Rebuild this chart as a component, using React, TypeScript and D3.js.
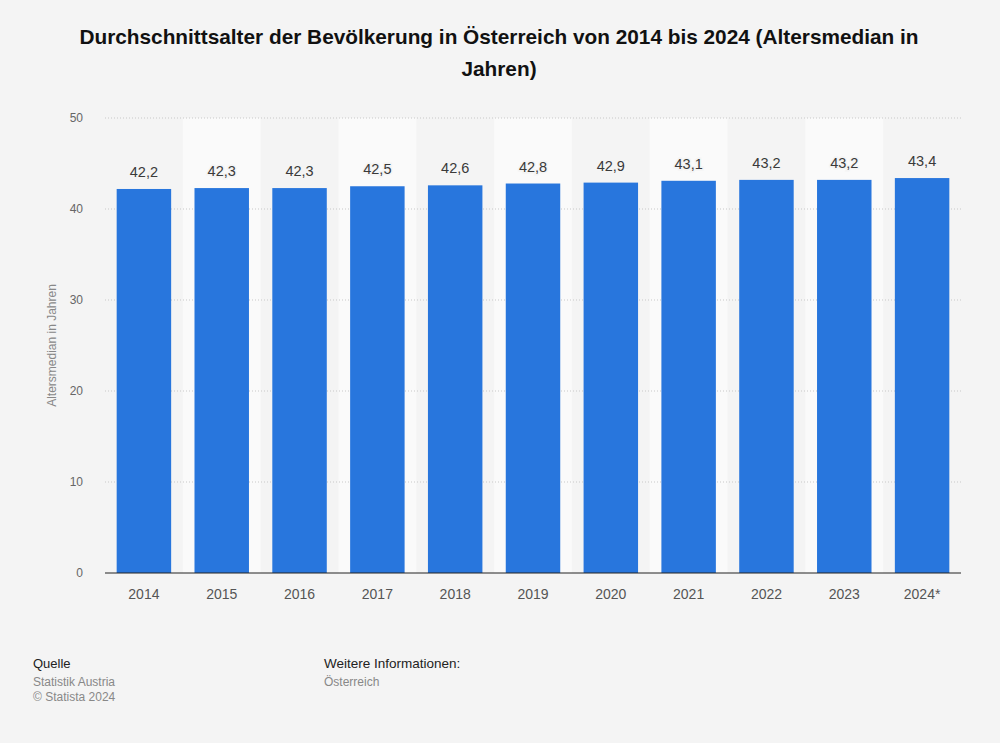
import React from "react";
import * as d3 from "d3";

const categories = ["2014", "2015", "2016", "2017", "2018", "2019", "2020", "2021", "2022", "2023", "2024*"];
const values = [42.2, 42.3, 42.3, 42.5, 42.6, 42.8, 42.9, 43.1, 43.2, 43.2, 43.4];
const yTicks = [0, 10, 20, 30, 40, 50];

const W = 1000, H = 743;
const left = 105, right = 961, top = 118, bottom = 573;

export default function App() {
  const x = d3.scaleBand<string>().domain(categories).range([left, right]).paddingInner(0.3).paddingOuter(0.15);
  const xs = d3.scaleBand<string>().domain(categories).range([left, right]).padding(0);
  const y = d3.scaleLinear().domain([0, 50]).range([bottom, top]);
  const fmt = (v: number) => v.toFixed(1).replace(".", ",");
  const font = "'Liberation Sans', Arial, sans-serif";
  return (
    <svg width={W} height={H} style={{ position: "absolute", left: 0, top: 0, fontFamily: font }}>
      <rect x={0} y={0} width={W} height={H} fill="#f4f4f4" />
      <text x={499} y={44} textAnchor="middle" fontSize={20.8} fontWeight="bold" fill="#111">
        Durchschnittsalter der Bevölkerung in Österreich von 2014 bis 2024 (Altersmedian in
      </text>
      <text x={499} y={76} textAnchor="middle" fontSize={20.8} fontWeight="bold" fill="#111">Jahren)</text>
      {categories.map((c, i) =>
        i % 2 === 1 ? (
          <rect key={"s" + c} x={xs(c)} y={top} width={xs.bandwidth()} height={bottom - top} fill="#fafafa" />
        ) : null
      )}
      {yTicks.map((t) => (
        <g key={"t" + t}>
          {t > 0 && (
            <line x1={left} x2={right} y1={y(t)} y2={y(t)} stroke="#c8c8c8" strokeWidth={1} strokeDasharray="1,2" />
          )}
          <text x={83} y={y(t) + 4} textAnchor="end" fontSize={12} fill="#666">{t}</text>
        </g>
      ))}
      <text transform={`translate(56,${(top + bottom) / 2}) rotate(-90)`} textAnchor="middle" fontSize={12} fill="#888">
        Altersmedian in Jahren
      </text>
      {categories.map((c, i) => (
        <g key={c}>
          <rect x={x(c)} y={y(values[i])} width={x.bandwidth()} height={bottom - y(values[i])} fill="#2876dd" />
          <text x={x(c)! + x.bandwidth() / 2} y={y(values[i]) - 12} textAnchor="middle" fontSize={14.5} fill="#3a3a3a"
            stroke="#f4f4f4" strokeWidth={3} paintOrder="stroke">
            {fmt(values[i])}
          </text>
          <text x={x(c)! + x.bandwidth() / 2} y={599} textAnchor="middle" fontSize={14} fill="#555">{c}</text>
        </g>
      ))}
      <line x1={left} x2={right} y1={bottom} y2={bottom} stroke="#222" strokeWidth={1.2} />
      <text x={33} y={668} fontSize={13} fill="#222">Quelle</text>
      <text x={33} y={686} fontSize={12} fill="#888">Statistik Austria</text>
      <text x={33} y={701} fontSize={12} fill="#888">© Statista 2024</text>
      <text x={324} y={668} fontSize={13.5} fill="#222">Weitere Informationen:</text>
      <text x={324} y={686} fontSize={12} fill="#888">Österreich</text>
    </svg>
  );
}
